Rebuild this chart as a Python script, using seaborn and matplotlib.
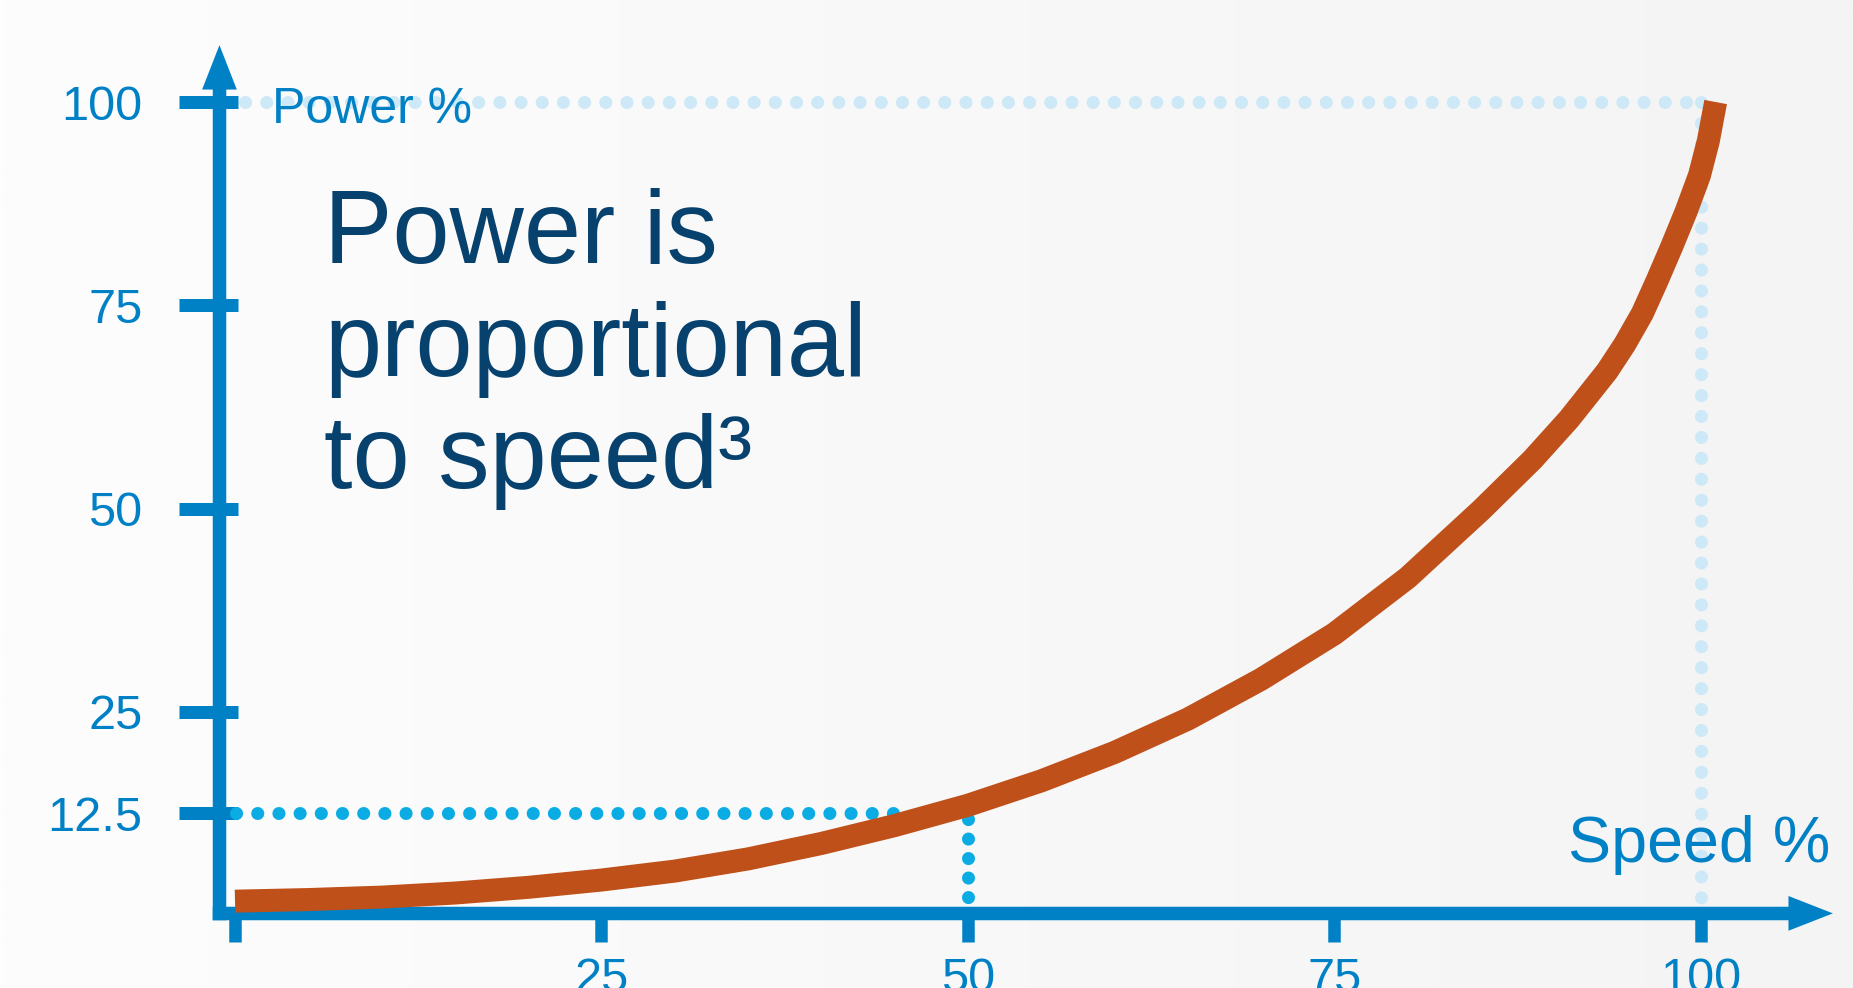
import numpy as np
import matplotlib.pyplot as plt
import seaborn as sns

# Curve (speed %, power %)
speed = [0, 5, 10, 15, 20, 25, 30, 35, 40, 45, 50, 55, 60, 65, 70, 75,
         80, 85, 88.5, 91, 93.6, 94.8, 96, 97, 98, 99, 99.9, 100.5, 101]
power = [1.7, 1.9, 2.2, 2.7, 3.4, 4.3, 5.4, 6.9, 8.8, 11.0, 13.5, 16.5,
         20.0, 24.1, 29.0, 34.6, 41.5, 49.8, 56.0, 61.0, 66.9, 70.2, 74.0,
         78.0, 82.2, 86.6, 91.0, 95.2, 100]

x_ticks = [0, 25, 50, 75, 100]
x_tick_labels = ["", "25", "50", "75", "100"]
y_ticks = [12.5, 25, 50, 75, 100]
y_tick_labels = ["12.5", "25", "50", "75", "100"]

guide_speed = 50
guide_power = 12.5
full_speed = 100
full_power = 100

title_lines = ["Power is", "proportional", "to speed\u00b3"]

# colours
blue = "#0081c6"
bright = "#0aace3"
light = "#cde8f7"
navy = "#07426e"
curve_color = "#bf5019"

PX = 0.72  # points per pixel at dpi 100
W, H = 1853, 988

sns.set_style("white")
plt.rcParams["font.family"] = ["Liberation Sans", "DejaVu Sans"]

fig = plt.figure(figsize=(W / 100, H / 100), dpi=100)
ax = fig.add_axes([0, 0, 1, 1])
xlim = (-16.03, 110.37)
ylim = (-8.98, 112.55)

# soft background gradient, white on the left to light grey on the right
grad = np.linspace(0, 1, 256)
c0 = np.array([254, 253, 253]) / 255
c1 = np.array([244, 244, 244]) / 255
img = (c0[None, :] * (1 - grad[:, None]) + c1[None, :] * grad[:, None])[None, :, :]
ax.imshow(img, extent=(xlim[0], xlim[1], ylim[0], ylim[1]), aspect="auto",
          zorder=0, interpolation="bilinear")
ax.set_xlim(*xlim)
ax.set_ylim(*ylim)

# dotted guides
dot_lw = 13 * PX
ax.plot([0.7, full_speed], [full_power, full_power], color=light, lw=dot_lw,
        linestyle=(0, (0.01, 1.62)), dash_capstyle="round", zorder=1)
ax.plot([full_speed, full_speed], [full_power, 0], color=light, lw=dot_lw,
        linestyle=(0, (0.01, 1.6)), dash_capstyle="round", zorder=1)
ax.plot([0.1, 45.3], [guide_power, guide_power], color=bright, lw=dot_lw,
        linestyle=(0, (0.01, 1.62)), dash_capstyle="round", zorder=3)
ax.plot([guide_speed, guide_speed], [11.8, 0.2], color=bright, lw=dot_lw,
        linestyle=(0, (0.01, 1.49)), dash_capstyle="round", zorder=3)

# the power curve
sns.lineplot(x=speed, y=power, ax=ax, color=curve_color, linewidth=23 * PX,
             solid_capstyle="butt", solid_joinstyle="round", zorder=4)

# axes as arrows
for s in ["top", "right"]:
    ax.spines[s].set_visible(False)
ax.spines["left"].set_position(("data", -1.06))
ax.spines["left"].set_bounds(0.2, 102.3)
ax.spines["left"].set_linewidth(13.5 * PX)
ax.spines["left"].set_color(blue)
ax.spines["bottom"].set_position(("data", 0.2))
ax.spines["bottom"].set_bounds(-1.06, 106.2)
ax.spines["bottom"].set_linewidth(13.5 * PX)
ax.spines["bottom"].set_color(blue)

head = "-|>,head_length=3.2,head_width=1.25"
ax.annotate("", xy=(109.0, 0.2), xytext=(105.0, 0.2),
            arrowprops=dict(arrowstyle=head, color=blue, lw=0,
                            shrinkA=0, shrinkB=0, mutation_scale=10))
ax.annotate("", xy=(-1.06, 107.0), xytext=(-1.06, 101.0),
            arrowprops=dict(arrowstyle=head, color=blue, lw=0,
                            shrinkA=0, shrinkB=0, mutation_scale=10))

ax.set_xticks(x_ticks, x_tick_labels)
ax.tick_params(axis="x", bottom=True, direction="out", length=29 * PX,
               width=12.5 * PX, color=blue, pad=15 * PX, labelsize=35,
               labelcolor=blue)
ax.set_yticks(y_ticks, y_tick_labels)
ax.set_yticks(y_ticks, minor=True)
ax.yaxis.remove_overlapping_locs = False
ax.tick_params(axis="y", which="major", left=True, direction="out",
               length=40 * PX, width=13 * PX, color=blue, pad=26.6,
               labelsize=35, labelcolor=blue)
ax.tick_params(axis="y", which="minor", left=True, direction="in",
               length=19 * PX, width=13 * PX, color=blue)
ax.set_xlabel("")
ax.set_ylabel("")
ax.grid(False)

# texts
fig.text(272 / W, 1 - 123 / H, "Power %", fontsize=36, color=blue, va="baseline")
fig.text(1830 / W, 1 - 862 / H, "Speed %", fontsize=46.5, color=blue,
         va="baseline", ha="right")
for line, base in zip(title_lines, [263, 376, 488]):
    fig.text(324 / W, 1 - base / H, line, fontsize=74, color=navy, va="baseline")

fig.savefig("out.png", dpi=100)
